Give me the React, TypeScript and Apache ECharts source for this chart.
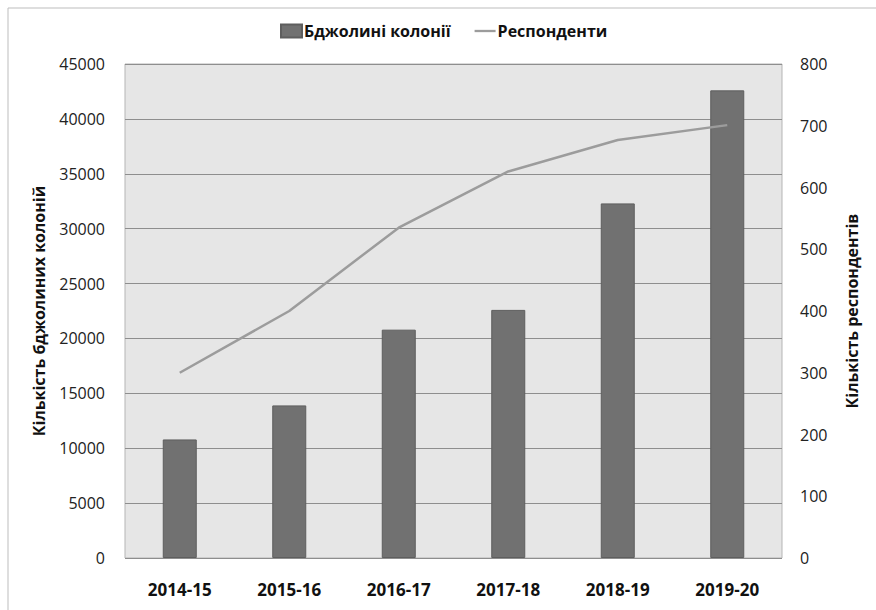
import React, { useEffect, useRef } from "react";
import * as echarts from "echarts";

const categories = ["2014-15", "2015-16", "2016-17", "2017-18", "2018-19", "2019-20"];
const colonies = [10800, 13900, 20800, 22600, 32300, 42600];
const respondents = [300, 400, 535, 626, 677, 701];
const seriesNames = ["Бджолині колонії", "Респонденти"];
const leftTitle = "Кількість бджолиних колоній";
const rightTitle = "Кількість респондентів";

export default function App() {
  const ref = useRef<HTMLDivElement>(null);
  useEffect(() => {
    if (!ref.current) return;
    const chart = echarts.init(ref.current, null, { renderer: "svg" });
    const font = "'Open Sans', 'Noto Sans', sans-serif";
    chart.setOption({
      animation: false,
      backgroundColor: "#ffffff",
      textStyle: { fontFamily: font },
      graphic: [
        { type: "line", shape: { x1: 8, y1: 8, x2: 876, y2: 8 }, style: { stroke: "#bdbdbd", lineWidth: 1 } },
        { type: "line", shape: { x1: 8, y1: 8, x2: 8, y2: 610 }, style: { stroke: "#bdbdbd", lineWidth: 1 } },
      ],
      legend: {
        left: 275,
        top: 18,
        itemWidth: 21,
        itemHeight: 13,
        itemGap: 24,
        textStyle: { fontFamily: font, fontWeight: "bold", fontSize: 16, color: "#111", padding: [0, 0, 0, -3] },
        data: [
          { name: seriesNames[0], icon: "rect" },
          { name: seriesNames[1], icon: "path://M0,0 H100 V11 H0 Z" },
        ],
      },
      grid: {
        left: 125,
        right: 94,
        top: 64,
        bottom: 52,
        show: true,
        backgroundColor: "#e6e6e6",
        borderColor: "#b5b5b5",
        borderWidth: 1,
      },
      xAxis: {
        type: "category",
        data: categories,
        axisLine: { show: false },
        axisTick: { show: false },
        axisLabel: { fontFamily: font, fontWeight: "bold", fontSize: 17, color: "#111", margin: 23 },
      },
      yAxis: [
        {
          type: "value",
          min: 0,
          max: 45000,
          interval: 5000,
          name: leftTitle,
          nameLocation: "middle",
          nameGap: 78,
          nameTextStyle: { fontFamily: font, fontWeight: "bold", fontSize: 16, color: "#111" },
          axisLine: { show: false },
          axisTick: { show: false },
          axisLabel: { fontFamily: font, fontSize: 16, color: "#222", margin: 20, formatter: (v: number) => String(v) },
          splitLine: { show: true, lineStyle: { color: "#8e8e8e", width: 1 } },
        },
        {
          type: "value",
          min: 0,
          max: 800,
          interval: 100,
          alignTicks: false,
          name: rightTitle,
          nameLocation: "middle",
          nameGap: 62,
          nameTextStyle: { fontFamily: font, fontWeight: "bold", fontSize: 16, color: "#111" },
          axisLine: { show: false },
          axisTick: { show: false },
          axisLabel: { fontFamily: font, fontSize: 16, color: "#222", margin: 18, formatter: (v: number) => String(v) },
          splitLine: { show: false },
        },
      ],
      series: [
        {
          name: seriesNames[0],
          type: "bar",
          data: colonies,
          barWidth: 34,
          yAxisIndex: 0,
          itemStyle: { color: "#717171", borderColor: "#5e5e5e", borderWidth: 1 },
        },
        {
          name: seriesNames[1],
          type: "line",
          data: respondents,
          yAxisIndex: 1,
          symbol: "none",
          lineStyle: { color: "#9c9c9c", width: 2.5 },
          itemStyle: { color: "#9c9c9c" },
        },
      ],
    });
    return () => chart.dispose();
  }, []);
  return <div ref={ref} style={{ width: 876, height: 610, position: "absolute", left: 0, top: 0 }} />;
}
